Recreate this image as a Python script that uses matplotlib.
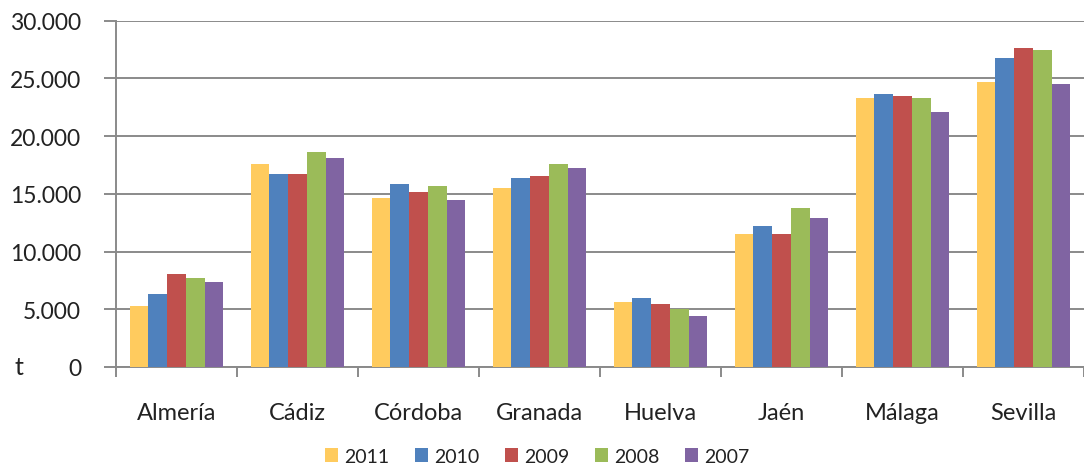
import numpy as np
import matplotlib.pyplot as plt
from matplotlib.ticker import FuncFormatter, FixedLocator

# toneladas por provincia y año
provincias = ["Almería", "Cádiz", "Córdoba", "Granada", "Huelva", "Jaén", "Málaga", "Sevilla"]
years = ["2011", "2010", "2009", "2008", "2007"]

v2011 = [5250, 17600, 14650, 15500, 5600, 11500, 23300, 24700]
v2010 = [6330, 16700, 15850, 16380, 5980, 12200, 23650, 26800]
v2009 = [8050, 16700, 15150, 16550, 5460, 11500, 23480, 27650]
v2008 = [7700, 18650, 15680, 17600, 5050, 13780, 23300, 27480]
v2007 = [7330, 18100, 14470, 17250, 4420, 12900, 22100, 24550]

series = [v2011, v2010, v2009, v2008, v2007]
colors = ['#FFCB5E', '#4F81BD', '#C0504D', '#9BBB59', '#8064A2']

plt.rcParams['font.family'] = ['Lato', 'DejaVu Sans']

fig = plt.figure(figsize=(10.84, 4.64), dpi=100)
ax = fig.add_axes([0.107, 0.207, 0.893, 0.746])

x = np.arange(len(provincias))
w = 0.155
for i, vals in enumerate(series):
    ax.bar(x + (i - 2) * w, vals, width=w, color=colors[i], label=years[i], zorder=3)

ax.set_xlim(-0.5, len(provincias) - 0.5)
ax.set_ylim(0, 30000)
ax.set_yticks(range(0, 30001, 5000))
ax.yaxis.set_major_formatter(FuncFormatter(lambda v, p: "0" if v == 0 else f"{int(v):,}".replace(",", ".")))
ax.grid(axis='y', color='#8a8a8a', linewidth=1.4, zorder=0)

# ticks en los límites de categoría
ax.set_xticks(x)
ax.set_xticklabels(provincias)
ax.xaxis.set_minor_locator(FixedLocator(np.arange(-0.5, len(provincias), 1)))
ax.tick_params(axis='x', which='major', length=0, pad=25, labelsize=17, labelcolor='#222222')
ax.tick_params(axis='x', which='minor', length=7, width=1.4, color='#8a8a8a', direction='out')
ax.tick_params(axis='y', length=9, width=1.4, color='#8a8a8a', pad=16, labelsize=16.5, labelcolor='#222222')

for s in ['top', 'right']:
    ax.spines[s].set_visible(False)
for s in ['left', 'bottom']:
    ax.spines[s].set_color('#8a8a8a')
    ax.spines[s].set_linewidth(1.4)

fig.text(0.013, 0.207, "t", fontsize=18, color='#222222', va='center', ha='left')

leg = ax.legend(loc='center', bbox_to_anchor=(0.435, -0.258), ncol=5, frameon=False,
                fontsize=14, handlelength=0.7, handleheight=0.7, handletextpad=0.3,
                columnspacing=1.3, borderpad=0.1)
for t in leg.get_texts():
    t.set_color('#222222')

fig.savefig("out.png", dpi=100)
